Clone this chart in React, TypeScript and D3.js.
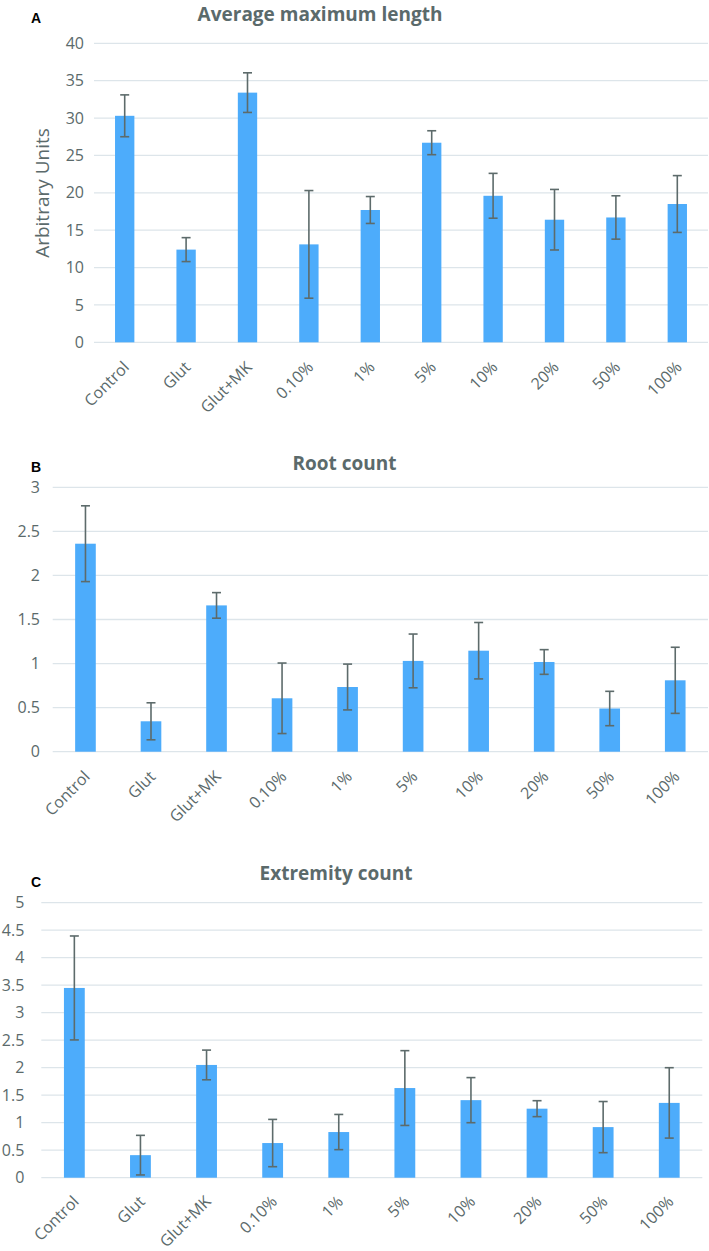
import React, { useEffect } from "react";
import * as d3 from "d3";

const categories = ["Control", "Glut", "Glut+MK", "0.10%", "1%", "5%", "10%", "20%", "50%", "100%"];

const lengthMeans = [30.3, 12.4, 33.4, 13.1, 17.7, 26.7, 19.6, 16.4, 16.7, 18.5];
const lengthErrs = [2.8, 1.6, 2.65, 7.2, 1.8, 1.6, 3.0, 4.05, 2.9, 3.8];
const lengthTicks = [0, 5, 10, 15, 20, 25, 30, 35, 40];

const rootMeans = [2.36, 0.345, 1.66, 0.606, 0.734, 1.03, 1.146, 1.018, 0.49, 0.81];
const rootErrs = [0.43, 0.21, 0.145, 0.4, 0.26, 0.305, 0.32, 0.14, 0.195, 0.375];
const rootTicks = [0, 0.5, 1, 1.5, 2, 2.5, 3];

const extremityMeans = [3.45, 0.41, 2.05, 0.63, 0.83, 1.63, 1.41, 1.255, 0.92, 1.36];
const extremityErrs = [0.945, 0.36, 0.27, 0.43, 0.32, 0.68, 0.41, 0.145, 0.465, 0.64];
const extremityTicks = [0, 0.5, 1, 1.5, 2, 2.5, 3, 3.5, 4, 4.5, 5];

const BAR = "#4dacfb";
const GRID = "#dde5ea";
const TEXT = "#5b6a6b";
const ERR = "#5d6b6b";
const FONT = "'Open Sans', sans-serif";

type PanelProps = {
  letter: string;
  title: string;
  means: number[];
  errs: number[];
  ticks: number[];
  x0: number;
  x1: number;
  yBottom: number;
  yTop: number;
  titleX: number;
  titleY: number;
  letterY: number;
  tickGap: number;
  labelDy: number;
  yLabel?: string;
};

function Panel(p: PanelProps) {
  const maxT = p.ticks[p.ticks.length - 1];
  const x = d3
    .scaleBand<string>()
    .domain(categories)
    .range([p.x0, p.x1])
    .paddingInner(0.685)
    .paddingOuter(0.3425);
  const y = d3.scaleLinear().domain([0, maxT]).range([p.yBottom, p.yTop]);
  const bw = x.bandwidth();
  const cap = 4.5;
  return (
    <g>
      <text x={31} y={p.letterY} fontFamily="Arial, 'Liberation Sans', sans-serif" fontWeight="bold" fontSize={14} fill="#000">
        {p.letter}
      </text>
      <text x={p.titleX} y={p.titleY} textAnchor="middle" fontFamily={FONT} fontWeight="bold" fontSize={19} fill={TEXT}>
        {p.title}
      </text>
      {p.ticks.map((t) => (
        <g key={t}>
          <line x1={p.x0} x2={p.x1} y1={y(t)} y2={y(t)} stroke={GRID} strokeWidth={1.3} />
          <text x={p.x0 - p.tickGap} y={y(t)} dy="0.35em" textAnchor="end" fontFamily={FONT} fontSize={16} fill={TEXT}>
            {String(t)}
          </text>
        </g>
      ))}
      {p.yLabel && (
        <text
          transform={`translate(49,193) rotate(-90)`}
          textAnchor="middle"
          fontFamily={FONT}
          fontSize={19}
          fill={TEXT}
        >
          {p.yLabel}
        </text>
      )}
      {categories.map((c, i) => {
        const bx = x(c) as number;
        const cx = bx + bw / 2;
        const v = p.means[i];
        const e = p.errs[i];
        return (
          <g key={c}>
            <rect x={bx} y={y(v)} width={bw} height={y(0) - y(v)} fill={BAR} />
            <line x1={cx} x2={cx} y1={y(v + e)} y2={y(v - e)} stroke={ERR} strokeWidth={1.6} />
            <line x1={cx - cap} x2={cx + cap} y1={y(v + e)} y2={y(v + e)} stroke={ERR} strokeWidth={1.6} />
            <line x1={cx - cap} x2={cx + cap} y1={y(v - e)} y2={y(v - e)} stroke={ERR} strokeWidth={1.6} />
            <text
              transform={`translate(${cx + 1.5},${p.yBottom + p.labelDy}) rotate(-45)`}
              textAnchor="end"
              dy="0.35em"
              fontFamily={FONT}
              fontSize={16}
              fill={TEXT}
            >
              {c}
            </text>
          </g>
        );
      })}
    </g>
  );
}

export default function App() {
  useEffect(() => {
    document.body.style.margin = "0";
  }, []);
  return (
    <svg width={709} height={1251} viewBox="0 0 709 1251" style={{ display: "block", background: "#fff" }}>
      <rect width={709} height={1251} fill="#fff" />
      <Panel
        letter="A"
        title="Average maximum length"
        means={lengthMeans}
        errs={lengthErrs}
        ticks={lengthTicks}
        x0={94}
        x1={708}
        yBottom={342.3}
        yTop={43.3}
        titleX={320}
        titleY={21}
        letterY={23}
        tickGap={10}
        labelDy={22}
        yLabel="Arbitrary Units"
      />
      <Panel
        letter="B"
        title="Root count"
        means={rootMeans}
        errs={rootErrs}
        ticks={rootTicks}
        x0={52.7}
        x1={708}
        yBottom={751.7}
        yTop={487.3}
        titleX={344.5}
        titleY={470}
        letterY={472}
        tickGap={12.7}
        labelDy={22}
      />
      <Panel
        letter="C"
        title="Extremity count"
        means={extremityMeans}
        errs={extremityErrs}
        ticks={extremityTicks}
        x0={41.3}
        x1={702.3}
        yBottom={1177.7}
        yTop={902.7}
        titleX={336}
        titleY={880}
        letterY={887}
        tickGap={17}
        labelDy={21}
      />
    </svg>
  );
}
